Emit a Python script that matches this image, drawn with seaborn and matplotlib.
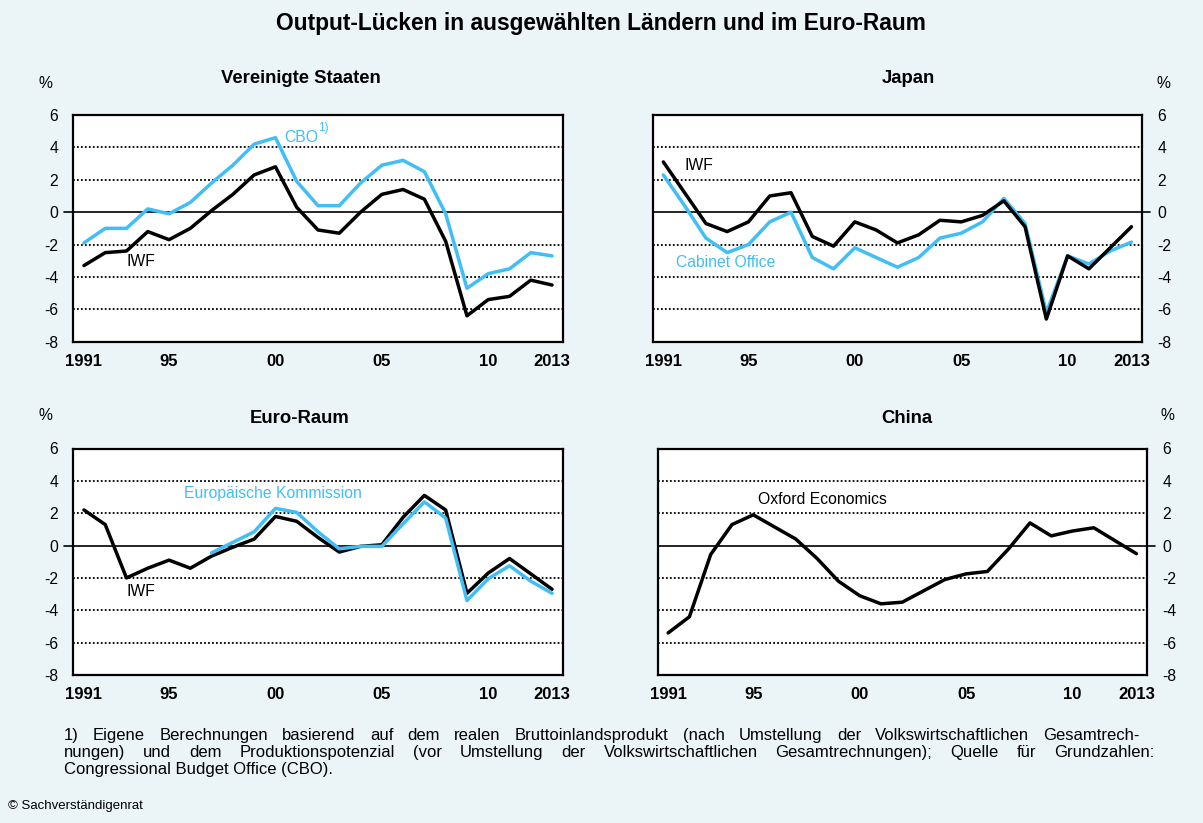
import numpy as np
import pandas as pd
import seaborn as sns
import matplotlib.pyplot as plt

# Output-Luecken, in % des Produktionspotenzials
years = list(range(1991, 2014))
ec_years = list(range(1997, 2014))

us_iwf = [-3.3, -2.5, -2.4, -1.2, -1.7, -1.0, 0.1, 1.1, 2.3, 2.8, 0.3, -1.1, -1.3,
          0.0, 1.1, 1.4, 0.8, -1.8, -6.4, -5.4, -5.2, -4.2, -4.5]
us_cbo = [-1.9, -1.0, -1.0, 0.2, -0.1, 0.6, 1.8, 2.9, 4.2, 4.6, 1.9, 0.4, 0.4,
          1.8, 2.9, 3.2, 2.5, -0.1, -4.7, -3.8, -3.5, -2.5, -2.7]

jp_iwf = [3.1, 1.2, -0.7, -1.2, -0.6, 1.0, 1.2, -1.5, -2.1, -0.6, -1.1, -1.9, -1.4,
          -0.5, -0.6, -0.2, 0.7, -0.9, -6.6, -2.7, -3.5, -2.2, -0.9]
jp_cab = [2.3, 0.4, -1.6, -2.5, -2.0, -0.6, 0.0, -2.8, -3.5, -2.2, -2.8, -3.4, -2.8,
          -1.6, -1.3, -0.6, 0.85, -0.7, -6.2, -2.7, -3.2, -2.4, -1.85]

ez_iwf = [2.2, 1.3, -2.0, -1.4, -0.9, -1.4, -0.65, -0.1, 0.4, 1.8, 1.5, 0.5, -0.4,
          -0.05, 0.05, 1.75, 3.1, 2.2, -2.95, -1.7, -0.8, -1.75, -2.7]
ez_ec = [-0.45, 0.2, 0.85, 2.3, 2.05, 0.85, -0.2, -0.05, -0.05, 1.35, 2.7, 1.7,
         -3.4, -2.05, -1.25, -2.2, -2.95]

cn_oe = [-5.4, -4.4, -0.55, 1.3, 1.9, 1.15, 0.4, -0.8, -2.2, -3.1, -3.6, -3.5, -2.8,
         -2.1, -1.75, -1.6, -0.2, 1.4, 0.6, 0.9, 1.1, 0.3, -0.5]

label_years = [1991, 1995, 2000, 2005, 2010, 2013]
label_text = ['1991', '95', '00', '05', '10', '2013']
y_ticks = [-8, -6, -4, -2, 0, 2, 4, 6]

BLUE = '#41BEF5'
BG = '#EBF5F8'

sns.set_style('white')
plt.rcParams['font.family'] = ['Liberation Sans', 'DejaVu Sans']
plt.rcParams['axes.unicode_minus'] = False
for k in ['text.color', 'xtick.color', 'ytick.color', 'axes.labelcolor']:
    plt.rcParams[k] = 'black'

W, H = 1203, 823
fig = plt.figure(figsize=(W / 100, H / 100), dpi=100, facecolor=BG)


def px_axes(left, top, right, bottom):
    return fig.add_axes([left / W, 1 - bottom / H, (right - left) / W, (bottom - top) / H])


def style_panel(ax, right_side=False):
    ax.set_facecolor('white')
    ax.set_xlim(1990.5, 2013.5)
    ax.set_ylim(-8, 6)
    for s in ax.spines.values():
        s.set_visible(True)
        s.set_color('black')
        s.set_linewidth(1.6)
    for y in [-6, -4, -2, 2, 4]:
        ax.axhline(y, color='black', lw=1.3, ls=(0, (1, 1.2)), zorder=1)
    if right_side:
        ax.axhline(0, xmin=0, xmax=1.017, color='black', lw=1.2, clip_on=False, zorder=1)
        ax.yaxis.tick_right()
    else:
        ax.axhline(0, xmin=-0.02, xmax=1, color='black', lw=1.2, clip_on=False, zorder=1)
    ax.set_yticks(y_ticks)
    ax.tick_params(axis='y', length=0, pad=11, labelsize=11.3)

    bounds = np.arange(1990.5, 2014.0, 1.0)
    tall = sorted({y - 0.5 for y in label_years} | {y + 0.5 for y in label_years})
    short = [b for b in bounds if b not in tall]
    ax.set_xticks(tall, labels=[''] * len(tall))
    ax.set_xticks(short, minor=True)
    ax.tick_params(axis='x', which='major', direction='out', length=5.5, width=1.5)
    ax.tick_params(axis='x', which='minor', direction='out', length=3, width=1.3)
    ax.set_xlabel('')
    ax.set_ylabel('')

    sec = ax.secondary_xaxis('bottom')
    sec.set_xticks(label_years, labels=label_text)
    sec.tick_params(length=0, pad=8.5, labelsize=12)
    for t in sec.get_xticklabels():
        t.set_fontweight('bold')
    sec.spines['bottom'].set_visible(False)


def draw(ax, x, y, color, lw=2.5):
    sns.lineplot(x=x, y=y, ax=ax, color=color, linewidth=lw, zorder=3)


LBL = 11.3

# Vereinigte Staaten
ax1 = px_axes(73.3, 115, 562.7, 341.7)
draw(ax1, years, us_iwf, 'black')
draw(ax1, years, us_cbo, BLUE)
style_panel(ax1)
cbo = ax1.text(2000.4, 4.6, 'CBO', color=BLUE, fontsize=LBL, va='center')
ax1.annotate('1)', xy=(1.0, 0.72), xycoords=cbo, color=BLUE, fontsize=8.5, va='bottom')
ax1.text(1993.0, -3.05, 'IWF', color='black', fontsize=LBL, va='center')

# Japan
ax2 = px_axes(652.7, 115, 1142.1, 341.7)
draw(ax2, years, jp_cab, BLUE)
draw(ax2, years, jp_iwf, 'black')
style_panel(ax2, right_side=True)
ax2.text(1992.0, 2.86, 'IWF', color='black', fontsize=LBL, va='center')
ax2.text(1991.6, -3.13, 'Cabinet Office', color=BLUE, fontsize=LBL, va='center')

# Euro-Raum
ax3 = px_axes(73.3, 448.5, 562.7, 675)
draw(ax3, years, ez_iwf, 'black')
draw(ax3, ec_years, ez_ec, BLUE)
style_panel(ax3)
ax3.text(1995.7, 3.23, 'Europäische Kommission', color=BLUE, fontsize=LBL, va='center')
ax3.text(1993.0, -2.84, 'IWF', color='black', fontsize=LBL, va='center')

# China
ax4 = px_axes(657.5, 448.5, 1147, 675)
draw(ax4, years, cn_oe, 'black')
style_panel(ax4, right_side=True)
ax4.text(1995.2, 2.84, 'Oxford Economics', color='black', fontsize=LBL, va='center')


def ftext(x, y, s, **kw):
    return fig.text(x / W, 1 - y / H, s, **kw)


ftext(601, 30, 'Output-Lücken in ausgewählten Ländern und im Euro-Raum',
      ha='center', va='baseline', fontsize=16.4, fontweight='bold')
for x, y, s in [(301, 82.7, 'Vereinigte Staaten'), (908, 82.7, 'Japan'),
                (300, 422.7, 'Euro-Raum'), (907, 422.7, 'China')]:
    ftext(x, y, s, ha='center', va='baseline', fontsize=13.3, fontweight='bold')
for x, y in [(45, 88.3), (1163, 88.3), (45, 420), (1167, 420)]:
    ftext(x, y, '%', ha='center', va='baseline', fontsize=LBL)

# Fussnote, Blocksatz
foot = ['1) Eigene Berechnungen basierend auf dem realen Bruttoinlandsprodukt (nach Umstellung der Volkswirtschaftlichen Gesamtrech-',
        'nungen) und dem Produktionspotenzial (vor Umstellung der Volkswirtschaftlichen Gesamtrechnungen); Quelle für Grundzahlen:',
        'Congressional Budget Office (CBO).']
FS = 12
x0 = 64
renderer = fig.canvas.get_renderer()
for i, (line, y) in enumerate(zip(foot, [740, 757, 774])):
    if i == 2:
        ftext(x0, y, line, fontsize=FS, va='baseline')
        continue
    words = line.split(' ')
    texts = [ftext(x0, y, w, fontsize=FS, va='baseline') for w in words]
    widths = [t.get_window_extent(renderer).width for t in texts]
    right = 1140 if i == 0 else 1154
    gap = max((right - x0 - sum(widths)) / (len(words) - 1), 2.5)
    x = x0
    for t, wd in zip(texts, widths):
        t.set_x(x / W)
        x += wd + gap

ftext(8, 806, '© Sachverständigenrat', fontsize=9.5, va='center')

fig.savefig('out.png', dpi=100, facecolor=BG)
